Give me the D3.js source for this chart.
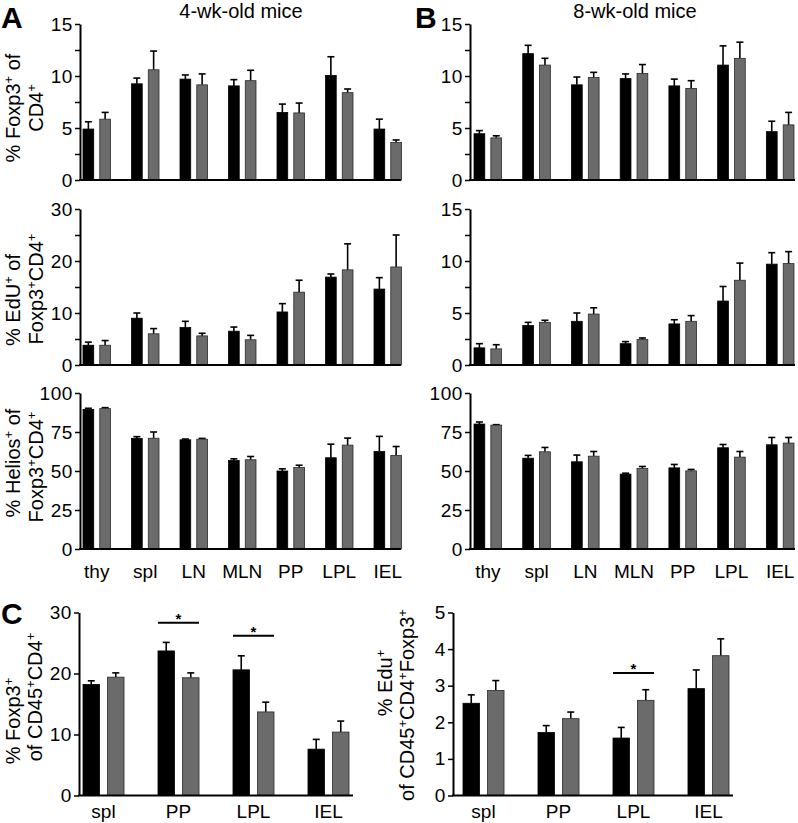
<!DOCTYPE html>
<html>
<head>
<meta charset="utf-8">
<script src="https://cdn.jsdelivr.net/npm/d3@7"></script>
<style>
  body { margin: 0; background: #fff; }
  text { font-family: "Liberation Sans", Arial, Helvetica, sans-serif; fill: #000; }
</style>
</head>
<body>
<div id="fig"></div>
<script>
// ---- data (mean and SEM) ----
var tissues = ["thy", "spl", "LN", "MLN", "PP", "LPL", "IEL"];
var sites = ["spl", "PP", "LPL", "IEL"];

// A/B top row: % Foxp3+ of CD4+
var foxp3_4wk_black = [4.9, 9.25, 9.7, 9.05, 6.5, 10.05, 4.9];
var foxp3_4wk_black_sem = [0.7, 0.55, 0.4, 0.6, 0.8, 1.8, 0.95];
var foxp3_4wk_gray = [5.85, 10.6, 9.15, 9.55, 6.45, 8.4, 3.6];
var foxp3_4wk_gray_sem = [0.65, 1.8, 1.05, 1.0, 0.95, 0.35, 0.25];

var foxp3_8wk_black = [4.45, 12.15, 9.15, 9.75, 9.05, 11.05, 4.65];
var foxp3_8wk_black_sem = [0.3, 0.8, 0.75, 0.45, 0.65, 1.85, 1.0];
var foxp3_8wk_gray = [4.05, 11.05, 9.85, 10.25, 8.8, 11.7, 5.3];
var foxp3_8wk_gray_sem = [0.2, 0.65, 0.5, 0.85, 0.75, 1.55, 1.2];

// middle row: % EdU+ of Foxp3+CD4+
var edu_4wk_black = [3.8, 9.0, 7.2, 6.5, 10.2, 16.9, 14.6];
var edu_4wk_black_sem = [0.6, 1.0, 1.2, 0.8, 1.6, 0.6, 2.2];
var edu_4wk_gray = [3.8, 6.0, 5.6, 4.85, 14.0, 18.3, 18.85];
var edu_4wk_gray_sem = [0.9, 1.0, 0.5, 0.85, 2.3, 5.0, 6.15];

var edu_8wk_black = [1.65, 3.8, 4.2, 2.05, 3.95, 6.15, 9.7];
var edu_8wk_black_sem = [0.4, 0.3, 0.8, 0.2, 0.4, 1.4, 1.1];
var edu_8wk_gray = [1.55, 4.1, 4.9, 2.45, 4.2, 8.15, 9.75];
var edu_8wk_gray_sem = [0.4, 0.2, 0.6, 0.15, 0.55, 1.65, 1.15];

// bottom row: % Helios+ of Foxp3+CD4+
var helios_4wk_black = [89.5, 70.9, 70.0, 56.7, 50.0, 58.5, 62.5];
var helios_4wk_black_sem = [0.7, 1.1, 0.5, 1.1, 1.4, 8.7, 9.7];
var helios_4wk_gray = [90.0, 71.0, 70.4, 57.2, 52.2, 66.6, 60.0];
var helios_4wk_gray_sem = [0.6, 4.0, 0.5, 2.1, 1.5, 4.5, 5.7];

var helios_8wk_black = [80.1, 58.2, 55.9, 48.0, 52.0, 64.9, 66.8];
var helios_8wk_black_sem = [1.3, 1.8, 4.3, 0.6, 2.2, 2.1, 4.7];
var helios_8wk_gray = [79.4, 62.3, 59.5, 51.6, 50.1, 58.9, 67.9];
var helios_8wk_gray_sem = [0.3, 2.8, 3.0, 1.3, 0.9, 3.6, 3.6];

// C: % Foxp3+ of CD45+CD4+ and % Edu+ of CD45+CD4+Foxp3+
var c_foxp3_black = [18.2, 23.7, 20.6, 7.6];
var c_foxp3_black_sem = [0.6, 1.4, 2.3, 1.6];
var c_foxp3_gray = [19.4, 19.3, 13.7, 10.4];
var c_foxp3_gray_sem = [0.7, 0.8, 1.6, 1.8];

var c_edu_black = [2.52, 1.72, 1.57, 2.92];
var c_edu_black_sem = [0.23, 0.19, 0.29, 0.51];
var c_edu_gray = [2.87, 2.10, 2.60, 3.82];
var c_edu_gray_sem = [0.27, 0.18, 0.29, 0.46];

// significance marks: site and height (data units)
var c_foxp3_sig = [["PP", 28.3], ["LPL", 26.2]];
var c_edu_sig = [["LPL", 3.35]];

// ---- drawing ----
var width = 798, height = 823;
var svg = d3.select("#fig").append("svg")
  .attr("width", width)
  .attr("height", height);

var grayFill = "#6b6b6b";

function drawPanel(o) {
  var g = svg.append("g");

  var y = d3.scaleLinear().domain([0, o.max]).range([o.yBot, o.yTop]);
  var x = d3.scaleBand().domain(o.cats)
    .range([o.x0, o.x1])
    .paddingInner(o.pad)
    .paddingOuter(0);
  var xs = d3.scaleBand().domain(["black", "gray"])
    .range([0, x.bandwidth()])
    .paddingInner(o.pad2);

  var rows = o.cats.map(function (c, i) {
    return [
      { cat: c, key: "black", v: o.black[i], e: o.blackSem[i] },
      { cat: c, key: "gray", v: o.gray[i], e: o.graySem[i] }
    ];
  }).flat();

  // error bars (upper only), drawn under the bars
  var capW = 3.5;
  var eb = g.selectAll(".err").data(rows).enter().append("g").attr("class", "err");
  eb.append("line")
    .attr("x1", function (d) { return x(d.cat) + xs(d.key) + xs.bandwidth() / 2; })
    .attr("x2", function (d) { return x(d.cat) + xs(d.key) + xs.bandwidth() / 2; })
    .attr("y1", function (d) { return y(d.v); })
    .attr("y2", function (d) { return y(d.v + d.e); })
    .attr("stroke", "#000").attr("stroke-width", 1.6);
  eb.append("line")
    .attr("x1", function (d) { return x(d.cat) + xs(d.key) + xs.bandwidth() / 2 - capW; })
    .attr("x2", function (d) { return x(d.cat) + xs(d.key) + xs.bandwidth() / 2 + capW; })
    .attr("y1", function (d) { return y(d.v + d.e); })
    .attr("y2", function (d) { return y(d.v + d.e); })
    .attr("stroke", "#000").attr("stroke-width", 1.6);

  g.selectAll(".bar").data(rows).enter().append("rect")
    .attr("class", "bar")
    .attr("x", function (d) { return x(d.cat) + xs(d.key); })
    .attr("width", xs.bandwidth())
    .attr("y", function (d) { return y(d.v); })
    .attr("height", function (d) { return o.yBot - y(d.v); })
    .attr("fill", function (d) { return d.key == "black" ? "#000" : grayFill; })
    .attr("stroke", function (d) { return d.key == "black" ? "#000" : "#2a2a2a"; })
    .attr("stroke-width", 0.8);

  // y axis
  var yAxis = g.append("g")
    .attr("transform", "translate(" + o.axisX + ",0)")
    .call(d3.axisLeft(y)
      .tickValues(o.ticks)
      .tickSize(5)
      .tickSizeOuter(0)
      .tickPadding(2)
      .tickFormat(function (d) { return d % o.labelEvery === 0 ? d : ""; }));
  yAxis.select(".domain").attr("stroke-width", 2);
  yAxis.selectAll(".tick line").attr("stroke-width", 1.5);
  yAxis.selectAll(".tick text").attr("font-size", 19).attr("letter-spacing", 0.6)
    .attr("font-family", null);

  // x axis line
  g.append("line")
    .attr("x1", o.axisX - 1).attr("x2", o.axisEnd)
    .attr("y1", o.yBot).attr("y2", o.yBot)
    .attr("stroke", "#000").attr("stroke-width", 2);

  if (o.xLabels) {
    var xAxis = g.append("g")
      .attr("transform", "translate(0," + o.yBot + ")")
      .call(d3.axisBottom(x).tickSize(0).tickPadding(o.labelPad));
    xAxis.select(".domain").remove();
    xAxis.selectAll(".tick text").attr("font-size", 19).attr("font-family", null);
  }

  if (o.sig) {
    o.sig.forEach(function (s) {
      var yy = y(s[1]);
      g.append("line")
        .attr("x1", x(s[0])).attr("x2", x(s[0]) + x.bandwidth())
        .attr("y1", yy).attr("y2", yy)
        .attr("stroke", "#000").attr("stroke-width", 2);
      g.append("text")
        .attr("x", x(s[0]) + x.bandwidth() / 2)
        .attr("y", yy + 1)
        .attr("text-anchor", "middle")
        .attr("font-size", 15)
        .attr("font-weight", "bold")
        .text("*");
    });
  }
}

// rotated axis title; "^+" marks a superscript plus
function yTitle(x, yc, str) {
  var t = svg.append("text")
    .attr("transform", "translate(" + x + "," + yc + ") rotate(-90)")
    .attr("text-anchor", "middle")
    .attr("font-size", 20);
  str.split("^").forEach(function (part, i) {
    if (i === 0) { t.append("tspan").text(part); return; }
    t.append("tspan").attr("font-size", 13).attr("dy", -7).text(part[0]);
    t.append("tspan").attr("dy", 7).text(part.slice(1));
  });
}

var leftCol = { x0: 83, x1: 401.5, axisX: 80, axisEnd: 401, pad: 0.433, pad2: 0.36 };
var rightCol = { x0: 474, x1: 794, axisX: 470, axisEnd: 795, pad: 0.433, pad2: 0.36 };
var rowsY = [[24, 180], [209, 365], [393, 549]];

var t15 = [0, 2.5, 5, 7.5, 10, 12.5, 15];

function panel(col, row, extra) {
  drawPanel(Object.assign({ cats: tissues, yTop: rowsY[row][0], yBot: rowsY[row][1],
    labelPad: 16, xLabels: row == 2 }, col, extra));
}

panel(leftCol, 0, { black: foxp3_4wk_black, blackSem: foxp3_4wk_black_sem,
  gray: foxp3_4wk_gray, graySem: foxp3_4wk_gray_sem, max: 15, ticks: t15, labelEvery: 5 });
panel(rightCol, 0, { black: foxp3_8wk_black, blackSem: foxp3_8wk_black_sem,
  gray: foxp3_8wk_gray, graySem: foxp3_8wk_gray_sem, max: 15, ticks: t15, labelEvery: 5 });
panel(leftCol, 1, { black: edu_4wk_black, blackSem: edu_4wk_black_sem,
  gray: edu_4wk_gray, graySem: edu_4wk_gray_sem, max: 30, ticks: [0, 5, 10, 15, 20, 25, 30], labelEvery: 10 });
panel(rightCol, 1, { black: edu_8wk_black, blackSem: edu_8wk_black_sem,
  gray: edu_8wk_gray, graySem: edu_8wk_gray_sem, max: 15, ticks: t15, labelEvery: 5 });
panel(leftCol, 2, { black: helios_4wk_black, blackSem: helios_4wk_black_sem,
  gray: helios_4wk_gray, graySem: helios_4wk_gray_sem, max: 100, ticks: [0, 25, 50, 75, 100], labelEvery: 25 });
panel(rightCol, 2, { black: helios_8wk_black, blackSem: helios_8wk_black_sem,
  gray: helios_8wk_gray, graySem: helios_8wk_gray_sem, max: 100, ticks: [0, 25, 50, 75, 100], labelEvery: 25 });

// panel C
drawPanel({ cats: sites, x0: 83, x1: 349, axisX: 79, axisEnd: 353, pad: 0.453, pad2: 0.327,
  yTop: 612.5, yBot: 795.5, max: 30, ticks: [0, 10, 20, 30], labelEvery: 10,
  black: c_foxp3_black, blackSem: c_foxp3_black_sem, gray: c_foxp3_gray, graySem: c_foxp3_gray_sem,
  xLabels: true, labelPad: 9, sig: c_foxp3_sig });
drawPanel({ cats: sites, x0: 463, x1: 729, axisX: 453, axisEnd: 733, pad: 0.453, pad2: 0.327,
  yTop: 612.5, yBot: 795.5, max: 5, ticks: [0, 1, 2, 3, 4, 5], labelEvery: 1,
  black: c_edu_black, blackSem: c_edu_black_sem, gray: c_edu_gray, graySem: c_edu_gray_sem,
  xLabels: true, labelPad: 9, sig: c_edu_sig });

// titles and panel letters
svg.append("text").attr("x", 241).attr("y", 18).attr("text-anchor", "middle")
  .attr("font-size", 20).text("4-wk-old mice");
svg.append("text").attr("x", 635).attr("y", 18).attr("text-anchor", "middle")
  .attr("font-size", 20).text("8-wk-old mice");
svg.append("text").attr("x", 1).attr("y", 27.5).attr("font-size", 30).attr("font-weight", "bold").text("A");
svg.append("text").attr("x", 415).attr("y", 27.5).attr("font-size", 30).attr("font-weight", "bold").text("B");
svg.append("text").attr("x", 1).attr("y", 624).attr("font-size", 30).attr("font-weight", "bold").text("C");

// y axis titles
yTitle(20, 108, "% Foxp3^+ of");
yTitle(43, 108, "CD4^+");
yTitle(20, 300, "% EdU^+ of");
yTitle(43, 289, "Foxp3^+CD4^+");
yTitle(20, 463, "% Helios^+ of");
yTitle(43, 467, "Foxp3^+CD4^+");
yTitle(20, 721, "% Foxp3^+");
yTitle(42, 697, "of CD45^+CD4^+");
yTitle(392, 683, "% Edu^+");
yTitle(414, 705, "of CD45^+CD4^+Foxp3^+");
</script>
</body>
</html>
